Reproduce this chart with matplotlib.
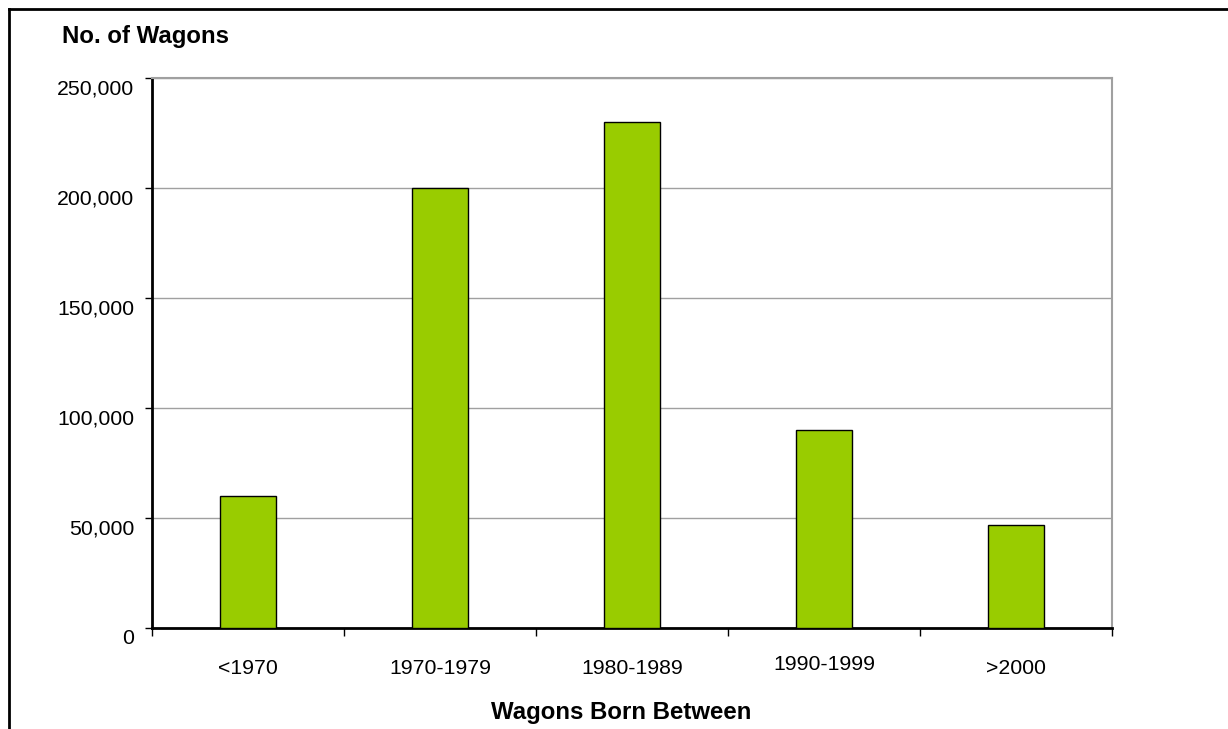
import matplotlib
matplotlib.use("Agg")
import matplotlib.pyplot as plt
from matplotlib.lines import Line2D
from matplotlib.ticker import FuncFormatter
from matplotlib.transforms import ScaledTranslation

categories = ["<1970", "1970-1979", "1980-1989", "1990-1999", ">2000"]
values = [60000, 200000, 230000, 90000, 47000]
yticks = [0, 50000, 100000, 150000, 200000, 250000]

plt.rcParams['font.family'] = ['Liberation Sans', 'DejaVu Sans']

W, H = 1228, 729
fig = plt.figure(figsize=(W / 100, H / 100), dpi=100)
ax = fig.add_axes([152 / W, 1 - 628 / H, (1112 - 152) / W, (628 - 78) / H])

x = list(range(len(categories)))
ax.bar(x, values, width=0.29, color="#99CC00", edgecolor="black", linewidth=1.0, zorder=3)

ax.set_xlim(-0.5, len(categories) - 0.5)
ax.set_ylim(0, 250000)
ax.set_yticks(yticks)
ax.yaxis.set_major_formatter(FuncFormatter(lambda v, p: f"{int(v):,}"))
ax.tick_params(axis='y', direction='out', length=5, width=1, pad=8, labelsize=15.3, colors='black')
ax.yaxis.grid(True, color="#a0a0a0", linewidth=1, zorder=0)
shift = ScaledTranslation(0, -9 / 100, fig.dpi_scale_trans)
for lab in ax.get_yticklabels():
    lab.set_transform(lab.get_transform() + shift)

# x ticks at category boundaries, labels at centers
ax.set_xticks([i - 0.5 for i in range(len(categories) + 1)])
ax.set_xticklabels([])
ax.tick_params(axis='x', direction='out', length=6, width=1)
for i, c in enumerate(categories):
    yoff = -40 if c != "1990-1999" else -36
    ax.annotate(c, xy=(i, 0), xycoords='data', xytext=(0, yoff), textcoords='offset pixels',
                ha='center', va='center', fontsize=15.3)

for s in ['left', 'bottom']:
    ax.spines[s].set_color('black')
    ax.spines[s].set_linewidth(2)
for s in ['top', 'right']:
    ax.spines[s].set_color('#a0a0a0')
    ax.spines[s].set_linewidth(1.5)

fig.text(62 / W, 1 - 37 / H, "No. of Wagons", fontsize=17.3, fontweight='bold', ha='left', va='center')
fig.text(621 / W, 1 - 712 / H, "Wagons Born Between", fontsize=17.3, fontweight='bold', ha='center', va='center')

# outer frame lines (top and left)
fig.add_artist(Line2D([8.5 / W, 1.0], [1 - 8.5 / H, 1 - 8.5 / H], transform=fig.transFigure, color='black', linewidth=2))
fig.add_artist(Line2D([8.5 / W, 8.5 / W], [1 - 8.5 / H, 0.0], transform=fig.transFigure, color='black', linewidth=2))

fig.savefig("out.png", dpi=100)
